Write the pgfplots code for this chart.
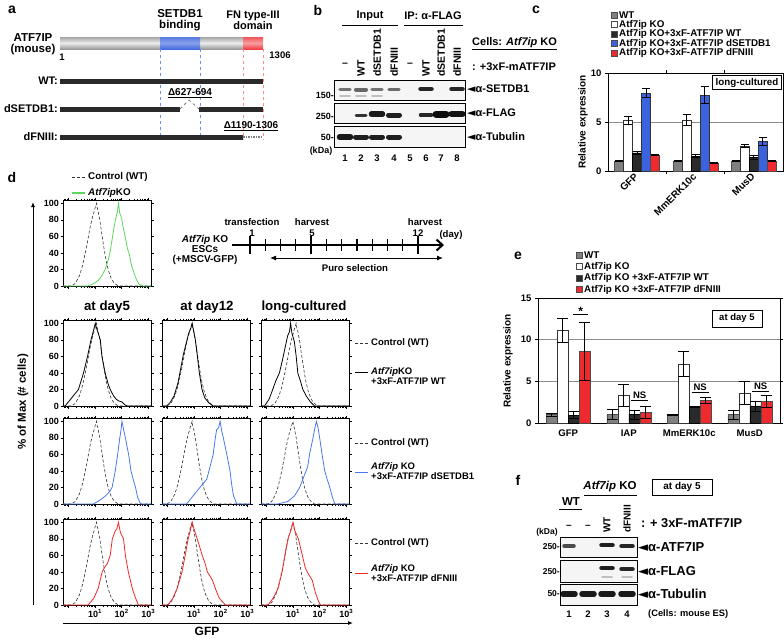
\documentclass[border=0pt]{standalone}
\usepackage{fontspec}
\setmainfont{Liberation Sans}
\newfontfamily\symf{DejaVu Sans}
\usepackage{pgfplots}
\pgfplotsset{compat=1.18}
\usepackage{pgfplotstable}
\usetikzlibrary{arrows.meta}
\definecolor{cgray}{HTML}{808080}
\definecolor{cdark}{HTML}{2A2A2A}
\definecolor{cblue}{HTML}{3B63DE}
\definecolor{cred}{HTML}{EE2A2F}
\definecolor{hgreen}{HTML}{5CD65C}
\definecolor{hblue}{HTML}{4A78EA}
\definecolor{hred}{HTML}{F02828}
\definecolor{dblue}{HTML}{6F8FF0}
\definecolor{dred}{HTML}{FF8A8A}
\newcommand{\tri}{{\symf ◄}}
\newcommand{\fs}[1]{\fontsize{#1}{#1}\selectfont}
\newcommand{\band}[5]{\draw[line width=#4pt, line cap=round, #5] ({#1-#3},#2) -- ({#1+#3},#2);}
\tikzset{ctrl/.style={black!80, densely dashed, line width=0.6pt}}

% ---------- histogram data (x = log10 GFP, y = % of max) ----------
\pgfplotstableread{
x y
-0.2 0
0.11 0
0.26 3
0.41 12
0.51 22
0.61 36
0.71 52
0.81 70
0.91 84
0.96 89
0.99 93
1.03 97
1.06 100
1.08 95
1.11 92
1.15 85
1.18 80
1.26 62
1.34 45
1.42 30
1.51 18
1.61 9
1.71 4
1.86 0
3.1 0
}\ctrlA
\pgfplotstableread{
x y
-0.2 0
-0.02 0
0.13 3
0.28 12
0.38 22
0.48 36
0.58 52
0.68 70
0.78 84
0.83 89
0.86 93
0.9 97
0.93 100
0.95 95
0.98 92
1.02 85
1.05 80
1.13 62
1.21 45
1.29 30
1.38 18
1.48 9
1.58 4
1.73 0
3.1 0
}\ctrlB
\pgfplotstableread{
x y
-0.2 0
0.05 0
0.2 3
0.35 12
0.45 22
0.55 36
0.65 52
0.75 70
0.85 84
0.9 89
0.93 93
0.97 97
1.0 100
1.02 95
1.05 92
1.09 85
1.12 80
1.2 62
1.28 45
1.36 30
1.45 18
1.55 9
1.65 4
1.8 0
3.1 0
}\ctrlC
\pgfplotstableread{
x y
-0.2 0
0.17 0
0.32 3
0.47 12
0.57 22
0.67 36
0.77 52
0.87 70
0.97 84
1.02 89
1.05 93
1.09 97
1.12 100
1.14 95
1.17 92
1.21 85
1.24 80
1.32 62
1.4 45
1.48 30
1.57 18
1.67 9
1.77 4
1.92 0
3.1 0
}\ctrlD
\pgfplotstableread{
x y
-0.2 0
0.7 0
0.9 2
1.1 6
1.25 12
1.38 20
1.5 32
1.57 42
1.65 58
1.72 72
1.78 82
1.84 90
1.88 100
1.93 88
2.0 82
2.06 70
2.14 58
2.22 45
2.29 38
2.36 26
2.44 18
2.55 8
2.65 2
2.8 0
3.1 0
}\green
\pgfplotstableread{
x y
-0.2 0
-0.12 0
0.13 10
0.38 20
0.57 40
0.72 60
0.85 80
0.95 92
1.01 100
1.06 94
1.12 88
1.2 80
1.26 60
1.38 40
1.5 26
1.57 20
1.7 12
1.8 8
1.9 6
2.01 5
2.1 2
2.2 0
3.1 0
}\blkA
\pgfplotstableread{
x y
-0.2 0
-0.03 0
0.1 4
0.25 12
0.4 28
0.5 45
0.6 62
0.7 75
0.8 88
0.88 94
0.93 100
0.98 92
1.05 80
1.12 62
1.2 40
1.3 20
1.4 10
1.55 4
1.72 0
3.1 0
}\blkB
\pgfplotstableread{
x y
-0.2 0
-0.07 0
0.1 8
0.24 20
0.35 30
0.49 40
0.6 55
0.7 70
0.8 85
0.87 90
0.91 100
0.96 88
1.05 78
1.12 60
1.18 40
1.28 30
1.37 20
1.5 12
1.65 5
1.81 0
3.1 0
}\blkC
\pgfplotstableread{
x y
-0.2 0
0.94 0
1.2 5
1.4 10
1.55 15
1.64 20
1.7 30
1.76 40
1.85 60
1.93 80
1.97 88
2.01 100
2.06 92
2.14 80
2.2 70
2.26 60
2.35 40
2.43 30
2.52 20
2.6 8
2.71 0
3.1 0
}\bluA
\pgfplotstableread{
x y
-0.2 0
0.72 0
0.97 10
1.22 20
1.35 25
1.48 30
1.6 45
1.72 60
1.8 80
1.85 90
1.92 92
1.98 100
2.04 88
2.1 80
2.23 60
2.35 40
2.42 22
2.48 10
2.61 0
3.1 0
}\bluB
\pgfplotstableread{
x y
-0.2 0
0.43 0
0.8 3
1.06 10
1.25 20
1.43 35
1.55 45
1.62 60
1.75 80
1.82 92
1.88 100
1.94 92
2.0 80
2.09 60
2.19 40
2.28 30
2.38 20
2.48 8
2.57 0
3.1 0
}\bluC
\pgfplotstableread{
x y
-0.2 0
0.74 0
0.95 8
1.12 20
1.27 40
1.35 45
1.46 50
1.57 60
1.65 80
1.72 86
1.76 90
1.82 92
1.88 100
1.95 88
2.07 80
2.14 60
2.25 40
2.4 20
2.5 10
2.63 0
3.1 0
}\redA
\pgfplotstableread{
x y
-0.2 0
0.03 0
0.2 8
0.37 20
0.55 40
0.67 60
0.78 80
0.86 90
0.93 100
1.0 92
1.12 80
1.31 60
1.42 50
1.5 40
1.6 35
1.69 30
1.8 20
1.95 8
2.18 0
3.1 0
}\redB
\pgfplotstableread{
x y
-0.2 0
0.06 0
0.25 8
0.44 20
0.59 40
0.7 60
0.81 80
0.92 90
1.0 100
1.07 90
1.2 80
1.35 60
1.46 45
1.57 38
1.72 30
1.84 15
1.95 5
2.03 0
3.1 0
}\redC

\pgfplotsset{
 hist/.style={scale only axis, width=88pt, height=86pt, anchor=north west,
   xmin=-0.2, xmax=3.1, ymin=0, ymax=104,
   xtick={0,1,2,3}, ytick={0,20,40,60,80,100},
   minor xtick={-0.155,-0.097,-0.046,0.301,0.477,0.602,0.699,0.778,0.845,0.903,0.954,1.301,1.477,1.602,1.699,1.778,1.845,1.903,1.954,2.301,2.477,2.602,2.699,2.778,2.845,2.903,2.954},
   xticklabels={}, yticklabels={},
   tick align=outside, major tick length=2.5pt, minor tick length=1.5pt,
   every tick/.style={black, line width=0.5pt},
   axis line style={line width=0.6pt},
   no markers},
 ylab/.style={yticklabels={0,20,40,60,80,100}, yticklabel style={font=\bfseries\fs{9}, inner sep=1.5pt}},
 xlab/.style={xticklabels={{},{10\textsuperscript{1}},{10\textsuperscript{2}},{10\textsuperscript{3}}}, xticklabel style={font=\bfseries\fs{9}, inner sep=1.5pt}},
}

\begin{document}
\begin{tikzpicture}[font=\bfseries\fs{9.5}]
\useasboundingbox (0,0) rectangle (784pt,-638pt);

% ================= canvas in pixel coordinates =================
\begin{axis}[at={(0pt,0pt)}, anchor=north west, scale only axis, width=784pt, height=638pt,
  xmin=0, xmax=784, ymin=0, ymax=638, y dir=reverse, hide axis, clip=false]
\begin{scope}[every node/.style={inner sep=0pt}]
% ---------- panel a ----------
\node[font=\bfseries\fs{14}] at (12,10) {a};
\node[font=\bfseries\fs{11.5}, align=center] at (33,44) {ATF7IP\\(mouse)};
\node[font=\bfseries\fs{11.5}, align=center] at (180,20) {SETDB1\\binding};
\node[font=\bfseries\fs{11}, align=center] at (253,20) {FN type-III\\domain};
\shade[top color=gray!70, bottom color=gray!80, middle color=gray!15] (60,37) rectangle (243,49);
\shade[top color=cblue!85, bottom color=cblue!95, middle color=cblue!60] (160,37) rectangle (200,49);
\shade[top color=cred!80, bottom color=cred!90, middle color=cred!45] (243,37) rectangle (263,49);
\node[font=\bfseries\fs{9.5}] at (62,57) {1};
\node[font=\bfseries\fs{9.5}] at (280,55) {1306};
\draw[dblue, dashed, line width=0.8pt] (160,49) -- (160,140);
\draw[dblue, dashed, line width=0.8pt] (200,49) -- (200,140);
\draw[dred, dashed, line width=0.8pt] (243,49) -- (243,140);
\draw[dred, dashed, line width=0.8pt] (263,49) -- (263,140);
\draw[cdark, line width=5pt] (60,81) -- (263,81);
\draw[cdark, line width=5pt] (60,109) -- (180,109);
\draw[cdark, line width=5pt] (199,109) -- (263,109);
\draw[gray, dashed, line width=0.8pt] (180,109) -- (189,100) -- (199,109);
\draw[cdark, line width=5pt] (60,137) -- (243,137);
\draw[gray, densely dotted, line width=1.5pt] (243,137) -- (263,137);
\node[font=\bfseries\fs{11}, anchor=east] at (58,81) {WT:};
\node[font=\bfseries\fs{11}, anchor=east] at (58,109) {dSETDB1:};
\node[font=\bfseries\fs{11}, anchor=east] at (58,137) {dFNIII:};
\node[font=\bfseries\fs{10}] at (190,93) {\underline{Δ627-694}};
\node[font=\bfseries\fs{10}] at (251,126) {\underline{Δ1190-1306}};

% ---------- panel b ----------
\node[font=\bfseries\fs{14}] at (318,10) {b};
\node[font=\bfseries\fs{11}] at (370,16) {Input};
\draw[line width=1pt] (342,25) -- (398,25);
\node[font=\bfseries\fs{11}] at (433,16) {IP: α-FLAG};
\draw[line width=1pt] (404,25) -- (463,25);
\node[font=\bfseries\fs{10.5}] at (345,65) {–};
\node[rotate=90, anchor=west, font=\bfseries\fs{10.5}] at (361,77) {WT};
\node[rotate=90, anchor=west, font=\bfseries\fs{10.5}] at (377,77) {dSETDB1};
\node[rotate=90, anchor=west, font=\bfseries\fs{10.5}] at (394,77) {dFNIII};
\node[font=\bfseries\fs{10.5}] at (410,65) {–};
\node[rotate=90, anchor=west, font=\bfseries\fs{10.5}] at (426,77) {WT};
\node[rotate=90, anchor=west, font=\bfseries\fs{10.5}] at (441,77) {dSETDB1};
\node[rotate=90, anchor=west, font=\bfseries\fs{10.5}] at (457,77) {dFNIII};
\node[anchor=west, font=\bfseries\fs{11}] at (472,44) {\underline{Cells: \textit{Atf7ip} KO}};
\node[anchor=west, font=\bfseries\fs{11}] at (472,67) {: +3xF-mATF7IP};
\fill[black!4] (334,80) rectangle (465,100);
\fill[black!4] (334,103) rectangle (465,123);
\fill[black!4] (334,126) rectangle (465,147);
\band{345}{89.5}{5}{3.5}{black!55}
\band{361}{89.5}{5}{4}{black!60}
\band{377}{89.5}{5}{3.5}{black!55}
\band{394}{89.5}{5}{3.5}{black!58}
\band{345}{96}{5}{1.5}{black!25}
\band{361}{96}{5}{1.5}{black!25}
\band{377}{96}{5}{1.5}{black!25}
\band{426}{89}{5.5}{4.5}{black!85}
\band{457}{89}{5.5}{4.5}{black!85}
\band{361}{115}{5}{3}{black!80}
\band{377}{114}{5.5}{5.5}{black!90}
\band{394}{115}{5.5}{5}{black!88}
\band{426}{115}{5.5}{3.5}{black!85}
\band{441}{114}{5}{7}{black!95}
\band{457}{114}{5.5}{6}{black!92}
\band{345}{137}{5.5}{5.5}{black!90}
\band{361}{137}{5.5}{5}{black!88}
\band{377}{137}{5.5}{5}{black!88}
\band{394}{137}{5.5}{5}{black!88}
\draw[line width=1pt] (334,80) rectangle (465,100);
\draw[line width=1pt] (334,103) rectangle (465,123);
\draw[line width=1pt] (334,126) rectangle (465,147);
\node[anchor=west, font=\bfseries\fs{11}] at (467,89) {\tri α-SETDB1};
\node[anchor=west, font=\bfseries\fs{11}] at (467,113) {\tri α-FLAG};
\node[anchor=west, font=\bfseries\fs{11}] at (467,137) {\tri α-Tubulin};
\node[anchor=east, font=\bfseries\fs{9}] at (334,95) {150-};
\node[anchor=east, font=\bfseries\fs{9}] at (334,116) {250-};
\node[anchor=east, font=\bfseries\fs{9}] at (334,137) {50-};
\node[font=\bfseries\fs{9}] at (321,151) {(kDa)};
\begin{scope}[font=\bfseries\fs{9.5}]
\node at (345,158) {1}; \node at (361,158) {2}; \node at (377,158) {3}; \node at (394,158) {4};
\node at (410,158) {5}; \node at (426,158) {6}; \node at (441,158) {7}; \node at (457,158) {8};
\end{scope}

% ---------- panel c legend ----------
\node[font=\bfseries\fs{14}] at (536,10) {c};
\draw[fill=cgray, draw=black!70] (611,12) rectangle (617,18);
\draw[fill=white, draw=black!70] (611,21.5) rectangle (617,27.5);
\draw[fill=cdark, draw=black!70] (611,31) rectangle (617,37);
\draw[fill=cblue, draw=black!70] (611,40.5) rectangle (617,46.5);
\draw[fill=cred, draw=black!70] (611,50) rectangle (617,56);
\begin{scope}[font=\bfseries\fs{9.8}]
\node[anchor=west] at (619,15) {WT};
\node[anchor=west] at (619,24.5) {Atf7ip KO};
\node[anchor=west] at (619,34) {Atf7ip KO+3xF-ATF7IP WT};
\node[anchor=west] at (619,43.5) {Atf7ip KO+3xF-ATF7IP dSETDB1};
\node[anchor=west] at (619,53) {Atf7ip KO+3xF-ATF7IP dFNIII};
\end{scope}
\node[rotate=90, font=\bfseries\fs{10}] at (583,122) {Relative expression};

% ---------- panel e legend ----------
\node[font=\bfseries\fs{14}] at (518,256) {e};
\draw[fill=cgray, draw=black!70] (576,252) rectangle (582,258);
\draw[fill=white, draw=black!70] (576,263.5) rectangle (582,269.5);
\draw[fill=cdark, draw=black!70] (576,275) rectangle (582,281);
\draw[fill=cred, draw=black!70] (576,286.5) rectangle (582,292.5);
\begin{scope}[font=\bfseries\fs{9.8}]
\node[anchor=west] at (584,255) {WT};
\node[anchor=west] at (584,266.5) {Atf7ip KO};
\node[anchor=west] at (584,278) {Atf7ip KO +3xF-ATF7IP WT};
\node[anchor=west] at (584,289.5) {Atf7ip KO +3xF-ATF7IP dFNIII};
\end{scope}
\node[rotate=90, font=\bfseries\fs{10}] at (508,361) {Relative expression};

% ---------- panel f ----------
\node[font=\bfseries\fs{14}] at (518,480) {f};
\node[font=\bfseries\fs{11.5}] at (610,487) {\textit{Atf7ip} KO};
\draw[line width=0.8pt] (584,495) -- (637,495);
\node[draw, line width=0.8pt, minimum width=60pt, minimum height=16pt, font=\bfseries\fs{10}] at (682,487) {at day 5};
\node[font=\bfseries\fs{11.5}] at (571,502) {WT};
\draw[line width=0.8pt] (559,509) -- (582,509);
\node[font=\bfseries\fs{10}] at (569,527) {–};
\node[font=\bfseries\fs{10}] at (588,527) {–};
\node[rotate=90, anchor=west, font=\bfseries\fs{10}] at (607,533) {WT};
\node[rotate=90, anchor=west, font=\bfseries\fs{10}] at (627,533) {dFNIII};
\node[anchor=west, font=\bfseries\fs{12.8}] at (641,523) {: + 3xF-mATF7IP};
\fill[black!4] (560,537) rectangle (637,557);
\fill[black!4] (560,560) rectangle (637,582);
\fill[black!4] (560,584) rectangle (637,605);
\band{569}{546}{5}{3.5}{black!70}
\band{607}{545}{5.5}{4.5}{black!88}
\band{627}{546}{5.5}{4.5}{black!85}
\band{607}{568}{5.5}{4.5}{black!88}
\band{627}{569}{5.5}{4.5}{black!85}
\band{607}{577}{5}{1.5}{black!25}
\band{627}{577}{5}{1.5}{black!25}
\band{569}{594}{6}{5.5}{black!90}
\band{588}{594}{6}{5.5}{black!90}
\band{607}{594}{6}{5.5}{black!90}
\band{627}{594}{6}{5.5}{black!90}
\draw[line width=1pt] (560,537) rectangle (637,557);
\draw[line width=1pt] (560,560) rectangle (637,582);
\draw[line width=1pt] (560,584) rectangle (637,605);
\node[anchor=west, font=\bfseries\fs{13}] at (638,547) {\tri α-ATF7IP};
\node[anchor=west, font=\bfseries\fs{13}] at (638,571) {\tri α-FLAG};
\node[anchor=west, font=\bfseries\fs{13}] at (638,594) {\tri α-Tubulin};
\node[font=\bfseries\fs{8.5}] at (547,532) {(kDa)};
\node[anchor=east, font=\bfseries\fs{8.5}] at (560,547) {250-};
\node[anchor=east, font=\bfseries\fs{8.5}] at (560,572) {250-};
\node[anchor=east, font=\bfseries\fs{8.5}] at (560,594) {50-};
\begin{scope}[font=\bfseries\fs{9.5}]
\node at (569,614) {1}; \node at (588,614) {2}; \node at (607,614) {3}; \node at (627,614) {4};
\end{scope}
\node[anchor=west, font=\bfseries\fs{9.3}] at (648,614) {(Cells: mouse ES)};

% ---------- panel d decorations ----------
\node[font=\bfseries\fs{14}] at (12,177) {d};
\draw[ctrl, line width=0.8pt] (72,177) -- (85,177);
\node[anchor=west, font=\bfseries\fs{9.8}] at (88,177) {Control (WT)};
\draw[hgreen, line width=1.2pt] (72,193) -- (85,193);
\node[anchor=west, font=\bfseries\fs{9.8}] at (88,193) {\textit{Atf7ip}KO};
\node[font=\bfseries\fs{13.3}] at (107,307) {at day5};
\node[font=\bfseries\fs{13.3}] at (207,307) {at day12};
\node[font=\bfseries\fs{13.3}] at (304,307) {long-cultured};
\begin{scope}[font=\bfseries\fs{9.5}]
\draw[ctrl, line width=0.8pt] (355,343) -- (368,343);
\node[anchor=west] at (371,343) {Control (WT)};
\draw[black, line width=1pt] (355,372) -- (368,372);
\node[anchor=west, align=left] at (371,376) {\textit{Atf7ip}KO\\+3xF-ATF7IP WT};
\draw[ctrl, line width=0.8pt] (355,443) -- (368,443);
\node[anchor=west] at (371,443) {Control (WT)};
\draw[hblue, line width=1pt] (355,472) -- (368,472);
\node[anchor=west, align=left] at (371,471) {\textit{Atf7ip} KO\\+3xF-ATF7IP dSETDB1};
\draw[ctrl, line width=0.8pt] (355,543) -- (368,543);
\node[anchor=west] at (371,543) {Control (WT)};
\draw[hred, line width=1pt] (355,573) -- (368,573);
\node[anchor=west, align=left] at (371,573) {\textit{Atf7ip} KO\\+3xF-ATF7IP dFNIII};
\end{scope}
\draw[line width=1pt, -{Latex[length=5pt,width=4pt]}] (33,605) -- (33,202);
\draw[line width=1pt, -{Latex[length=5pt,width=4pt]}] (63,623) -- (353,623);
\node[rotate=90, font=\bfseries\fs{11.5}] at (23,402) {\% of Max (\# cells)};
\node[font=\bfseries\fs{12}] at (207,631) {GFP};
% timeline
\draw[line width=2pt, -{Straight Barb[length=6pt,width=11pt]}] (232,245) -- (444,245);
\draw[line width=1.2pt] (265.3,239) -- (265.3,251);
\draw[line width=1.2pt] (280.5,239) -- (280.5,251);
\draw[line width=1.2pt] (295.8,239) -- (295.8,251);
\draw[line width=1.2pt] (326.4,239) -- (326.4,251);
\draw[line width=1.2pt] (341.6,239) -- (341.6,251);
\draw[line width=1.2pt] (356.9,239) -- (356.9,251);
\draw[line width=1.2pt] (372.2,239) -- (372.2,251);
\draw[line width=1.2pt] (387.4,239) -- (387.4,251);
\draw[line width=1.2pt] (402.7,239) -- (402.7,251);
\draw[line width=2.4pt] (250,236) -- (250,254);
\draw[line width=2.4pt] (311,236) -- (311,254);
\draw[line width=2.4pt] (418,236) -- (418,254);
\draw[line width=1pt, {Latex[length=6pt,width=5pt]}-{Latex[length=6pt,width=5pt]}] (270,258) -- (443,258);
\begin{scope}[font=\bfseries\fs{9.6}]
\node at (252,222) {transfection};
\node at (252,233) {1};
\node at (312,222) {harvest};
\node at (312,233) {5};
\node at (425,222) {harvest};
\node at (418,233) {12};
\node at (451,235) {(day)};
\node[align=center, font=\bfseries\fs{10}] at (205,250) {\textit{Atf7ip} KO\\ESCs\\(+MSCV-GFP)};
\node at (355,268) {Puro selection};
\end{scope}
\end{scope}
\end{axis}

% ================= panel c =================
\begin{axis}[at={(608pt,-73pt)}, anchor=north west, scale only axis, width=175pt, height=98pt,
  xmin=-0.5, xmax=2.5, ymin=0, ymax=10,
  ybar=0pt, bar width=9pt,
  xtick={0,1,2}, xticklabels={GFP,MmERK10c,MusD},
  xticklabel style={rotate=45, anchor=east, font=\bfseries\fs{10}, inner sep=1pt},
  major x tick style={draw=none}, minor xtick={0.5,1.5},
  ytick={0,5,10}, yticklabels={0,5,10}, yticklabel style={font=\bfseries\fs{9.5}},
  ymajorgrids, grid style={black!45, line width=0.6pt},
  tick align=outside, major tick length=3pt, minor tick length=3pt,
  axis line style={line width=0.8pt}, every tick/.style={black},
  error bars/error bar style={line width=0.7pt, black},
  error bars/error mark options={rotate=90, mark size=4pt, line width=0.7pt, black}]
\addplot[ybar, fill=cgray, draw=black!70, error bars/.cd, y dir=both, y explicit]
 coordinates {(0,1.0) +- (0,0.05) (1,1.0) +- (0,0.05) (2,1.0) +- (0,0.05)};
\addplot[ybar, fill=white, draw=black!80, error bars/.cd, y dir=both, y explicit]
 coordinates {(0,5.2) +- (0,0.42) (1,5.2) +- (0,0.55) (2,2.57) +- (0,0.15)};
\addplot[ybar, fill=cdark, draw=black, error bars/.cd, y dir=both, y explicit]
 coordinates {(0,1.85) +- (0,0.15) (1,1.5) +- (0,0.15) (2,1.42) +- (0,0.18)};
\addplot[ybar, fill=cblue, draw=black!80, error bars/.cd, y dir=both, y explicit]
 coordinates {(0,7.95) +- (0,0.45) (1,7.75) +- (0,0.85) (2,3.05) +- (0,0.42)};
\addplot[ybar, fill=cred, draw=black!70, error bars/.cd, y dir=both, y explicit]
 coordinates {(0,1.62) +- (0,0.03) (1,0.84) +- (0,0.03) (2,1.0) +- (0,0.04)};
\node[draw, fill=white, line width=0.8pt, minimum width=69pt, minimum height=14pt, inner sep=0.5pt, font=\bfseries\fs{9.8}] at (rel axis cs:0.794,0.903) {long-cultured};
\end{axis}

% ================= panel e =================
\begin{axis}[at={(538pt,-298pt)}, anchor=north west, scale only axis, width=242pt, height=125pt,
  xmin=-0.5, xmax=3.5, ymin=0, ymax=15,
  ybar=0pt, bar width=11pt,
  xtick={0,1,2,3}, xticklabels={GFP,IAP,MmERK10c,MusD},
  xticklabel style={font=\bfseries\fs{9.6}},
  major x tick style={draw=none},
  ytick={0,5,10,15}, yticklabels={0,5,10,15}, yticklabel style={font=\bfseries\fs{9.5}},
  ymajorgrids, grid style={black!45, line width=0.6pt},
  tick align=outside, major tick length=3pt,
  axis line style={line width=0.8pt}, every tick/.style={black},
  error bars/error bar style={line width=0.7pt, black},
  error bars/error mark options={rotate=90, mark size=5.5pt, line width=0.7pt, black}]
\addplot[ybar, fill=cgray, draw=black!70, error bars/.cd, y dir=both, y explicit]
 coordinates {(0,1.0) +- (0,0.15) (1,1.0) +- (0,0.6) (2,1.0) +- (0,0.06) (3,1.0) +- (0,0.55)};
\addplot[ybar, fill=white, draw=black!80, error bars/.cd, y dir=both, y explicit]
 coordinates {(0,11.1) +- (0,1.45) (1,3.35) +- (0,1.3) (2,7.1) +- (0,1.5) (3,3.6) +- (0,1.4)};
\addplot[ybar, fill=cdark, draw=black, error bars/.cd, y dir=both, y explicit]
 coordinates {(0,0.95) +- (0,0.4) (1,1.0) +- (0,0.55) (2,1.9) +- (0,0.05) (3,2.05) +- (0,0.6)};
\addplot[ybar, fill=cred, draw=black!70, error bars/.cd, y dir=both, y explicit]
 coordinates {(0,8.6) +- (0,3.5) (1,1.3) +- (0,0.72) (2,2.75) +- (0,0.35) (3,2.6) +- (0,0.72)};
\draw[line width=0.8pt] (0.08,13.0) -- (0.33,13.0);
\node[anchor=south, inner sep=0pt, font=\bfseries\fs{12}] at (0.205,12.9) {*};
\draw[line width=0.8pt] (1.04,2.75) -- (1.32,2.75);
\node[anchor=south, inner sep=1pt, font=\bfseries\fs{9.5}] at (1.18,2.8) {NS};
\draw[line width=0.8pt] (2.04,3.7) -- (2.32,3.7);
\node[anchor=south, inner sep=1pt, font=\bfseries\fs{9.5}] at (2.18,3.75) {NS};
\draw[line width=0.8pt] (3.04,3.85) -- (3.32,3.85);
\node[anchor=south, inner sep=1pt, font=\bfseries\fs{9.5}] at (3.18,3.9) {NS};
\node[draw, fill=white, line width=0.8pt, minimum width=50pt, minimum height=17pt, inner sep=1pt, font=\bfseries\fs{9.5}] at (rel axis cs:0.822,0.836) {at day 5};
\end{axis}

% ================= panel d histograms =================
\begin{axis}[hist, ylab, at={(63pt,-200pt)}]
\addplot[ctrl] table {\ctrlA};
\addplot[hgreen, line width=0.8pt] table {\green};
\end{axis}
\begin{axis}[hist, ylab, at={(63pt,-320pt)}]
\addplot[ctrl] table {\ctrlA};
\addplot[black, line width=0.8pt] table {\blkA};
\end{axis}
\begin{axis}[hist, at={(162pt,-320pt)}]
\addplot[ctrl] table {\ctrlB};
\addplot[black, line width=0.8pt] table {\blkB};
\end{axis}
\begin{axis}[hist, at={(261pt,-320pt)}]
\addplot[ctrl] table {\ctrlD};
\addplot[black, line width=0.8pt] table {\blkC};
\end{axis}
\begin{axis}[hist, ylab, at={(63pt,-418pt)}]
\addplot[ctrl] table {\ctrlA};
\addplot[hblue, line width=0.8pt] table {\bluA};
\end{axis}
\begin{axis}[hist, at={(162pt,-418pt)}]
\addplot[ctrl] table {\ctrlB};
\addplot[hblue, line width=0.8pt] table {\bluB};
\end{axis}
\begin{axis}[hist, at={(261pt,-418pt)}]
\addplot[ctrl] table {\ctrlC};
\addplot[hblue, line width=0.8pt] table {\bluC};
\end{axis}
\begin{axis}[hist, ylab, xlab, at={(63pt,-519pt)}]
\addplot[ctrl] table {\ctrlA};
\addplot[hred, line width=0.8pt] table {\redA};
\end{axis}
\begin{axis}[hist, xlab, at={(162pt,-519pt)}]
\addplot[ctrl] table {\ctrlB};
\addplot[hred, line width=0.8pt] table {\redB};
\end{axis}
\begin{axis}[hist, xlab, at={(261pt,-519pt)}]
\addplot[ctrl] table {\ctrlC};
\addplot[hred, line width=0.8pt] table {\redC};
\end{axis}
\end{tikzpicture}
\end{document}
